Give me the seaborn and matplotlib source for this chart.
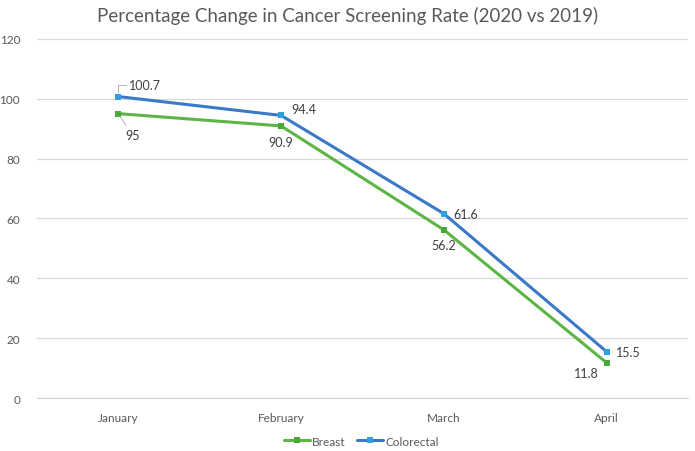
import numpy as np
import pandas as pd
import matplotlib.pyplot as plt
import seaborn as sns

months = ["January", "February", "March", "April"]
breast = [95, 90.9, 56.2, 11.8]
colorectal = [100.7, 94.4, 61.6, 15.5]

# label offsets in pixels, per series (for the Excel-style data labels)
breast_offsets = [(14, -21, "center"), (0, -16, "center"), (0, -15, "center"), (-20, -10, "center")]
colo_offsets = [(11, 12, "left"), (10, 6, "left"), (10, 0, "left"), (9, 0, "left")]


def main():
    sns.set_style("white")
    plt.rcParams["font.family"] = ["Lato", "DejaVu Sans"]

    df = pd.DataFrame({
        "month": months * 2,
        "value": breast + colorectal,
        "series": ["Breast"] * 4 + ["Colorectal"] * 4,
    })

    fig = plt.figure(figsize=(6.95, 4.52), dpi=100)
    ax = fig.add_axes([0.053, 0.117, 0.937, 0.795])

    line_colors = {"Breast": "#5cb544", "Colorectal": "#3a78c8"}
    marker_colors = {"Breast": "#4aa83a", "Colorectal": "#2f9fe2"}
    sns.lineplot(data=df, x="month", y="value", hue="series", palette=line_colors,
                 marker="s", markersize=5, linewidth=2.2, markeredgewidth=0,
                 ax=ax, legend=False, sort=False)
    for ln, name in zip(ax.lines, ["Breast", "Colorectal"]):
        ln.set_markerfacecolor(marker_colors[name])
        ln.set_markeredgecolor(marker_colors[name])

    ax.set_ylim(0, 120)
    ax.set_yticks(range(0, 121, 20))
    ax.set_xlim(-0.5, 3.5)
    ax.yaxis.grid(True, color="#d9d9d9", linewidth=0.9)
    ax.set_axisbelow(True)
    for s in ["top", "right", "left"]:
        ax.spines[s].set_visible(False)
    ax.spines["bottom"].set_color("#d0d0d0")
    ax.tick_params(axis="both", length=0, labelsize=8.5, labelcolor="#595959")
    ax.tick_params(axis="x", pad=10)
    ax.tick_params(axis="y", pad=12)
    ax.set_xlabel("")
    ax.set_ylabel("")

    leader = dict(arrowstyle="-", color="#a6a6a6", lw=0.6, shrinkA=0, shrinkB=3)
    for i, (v, (dx, dy, ha)) in enumerate(zip(breast, breast_offsets)):
        ax.annotate(f"{v:g}", (i, v), xytext=(dx, dy), textcoords="offset pixels",
                    ha=ha, va="center", fontsize=9, color="#404040",
                    arrowprops=leader if i in (0, 2) else None)
    for i, (v, (dx, dy, ha)) in enumerate(zip(colorectal, colo_offsets)):
        ax.annotate(f"{v:g}", (i, v), xytext=(dx, dy), textcoords="offset pixels",
                    ha=ha, va="center", fontsize=9, color="#404040",
                    arrowprops=dict(arrowstyle="-", color="#a6a6a6", lw=0.6,
                                    shrinkA=0, shrinkB=3,
                                    connectionstyle="angle,angleA=0,angleB=90,rad=0")
                    if i == 0 else None)

    fig.text(0.5, 0.965, "Percentage Change in Cancer Screening Rate (2020 vs 2019)",
             ha="center", va="center", fontsize=13.5, color="#595959")

    handles = [plt.Line2D([], [], color=line_colors[n], lw=2.2, marker="s", markersize=4,
                          markerfacecolor=marker_colors[n], markeredgewidth=0)
               for n in ["Breast", "Colorectal"]]
    fig.legend(handles, ["Breast", "Colorectal"], loc="center", bbox_to_anchor=(0.52, 0.022),
               ncol=2, frameon=False, fontsize=8.5, labelcolor="#595959",
               handlelength=2.2, handletextpad=0.2, columnspacing=1.0)

    fig.savefig("out.png", dpi=100)
    plt.close(fig)


if __name__ == "__main__":
    main()
